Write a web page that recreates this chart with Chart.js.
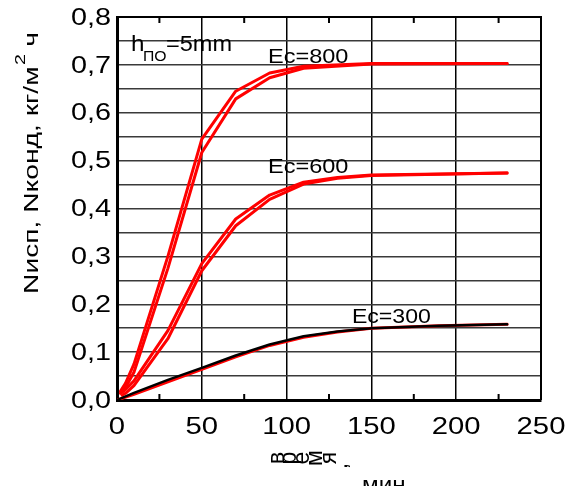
<!DOCTYPE html>
<html>
<head>
<meta charset="utf-8">
<script src="https://cdn.jsdelivr.net/npm/chart.js@4.4.1/dist/chart.umd.min.js"></script>
<style>
  html, body { margin: 0; padding: 0; background: #fff; }
  #wrap { width: 569px; height: 486px; }
</style>
</head>
<body>
<div id="wrap"><canvas id="chart"></canvas></div>
<script>
// time, min
const t800 = [2, 5, 10, 30, 50, 70, 90, 110, 150, 230];
const t600 = [3, 5, 10, 30, 50, 70, 90, 110, 130, 150, 230];
const t300 = [0, 10, 30, 50, 70, 90, 110, 130, 150, 190, 230];

// N, kg/m2h
const isp800 = [0.018, 0.035, 0.075, 0.30, 0.545, 0.645, 0.683, 0.697, 0.703, 0.703];
const kond800 = [0.014, 0.026, 0.058, 0.275, 0.517, 0.629, 0.673, 0.693, 0.702, 0.703];
const isp600 = [0.016, 0.022, 0.04, 0.145, 0.285, 0.378, 0.428, 0.455, 0.465, 0.47, 0.474];
const kond600 = [0.01, 0.014, 0.03, 0.128, 0.27, 0.364, 0.419, 0.451, 0.463, 0.469, 0.474];
const isp300 = [0, 0.015, 0.042, 0.067, 0.093, 0.116, 0.133, 0.143, 0.150, 0.155, 0.158];
const kond300 = [0, 0.012, 0.038, 0.064, 0.09, 0.114, 0.131, 0.142, 0.150, 0.155, 0.158];

const xLabels = [0, 50, 100, 150, 200, 250];
const yLabels = ['0,0', '0,1', '0,2', '0,3', '0,4', '0,5', '0,6', '0,7', '0,8'];

const pts = (xs, ys) => xs.map((x, i) => ({ x: x, y: ys[i] }));
const FONT = '"Liberation Sans", Arial, sans-serif';
const STRETCH = 1.2; // the original lettering is a bit wide

// text drawn with a horizontal stretch
function wideText(ctx, txt, x, y, align, k) {
  const m = ctx.measureText(txt).width * k;
  let x0 = x;
  if (align === 'center') x0 = x - m / 2;
  if (align === 'right') x0 = x - m;
  ctx.save();
  ctx.translate(x0, y);
  ctx.scale(k, 1);
  ctx.textAlign = 'left';
  ctx.fillText(txt, 0, 0);
  ctx.restore();
}

const decor = {
  id: 'decor',
  beforeDatasetsDraw(chart) {
    const { ctx, chartArea: a, scales: { x } } = chart;
    ctx.save();
    ctx.strokeStyle = '#000';
    ctx.lineWidth = 2;
    ctx.beginPath();
    ctx.moveTo(a.left, a.top); ctx.lineTo(a.right, a.top); ctx.lineTo(a.right, a.bottom);
    ctx.stroke();
    // minor ticks on x
    for (let v = 25; v < 250; v += 50) {
      const px = x.getPixelForValue(v);
      ctx.beginPath();
      ctx.moveTo(px, a.bottom); ctx.lineTo(px, a.bottom - 6);
      ctx.moveTo(px, a.top); ctx.lineTo(px, a.top + 6);
      ctx.stroke();
    }
    ctx.restore();
  },
  afterDatasetsDraw(chart) {
    const { ctx, scales: { x, y } } = chart;
    ctx.save();
    ctx.fillStyle = '#000';
    ctx.textBaseline = 'alphabetic';
    ctx.font = '21px ' + FONT;
    wideText(ctx, 'Ec=800', x.getPixelForValue(89), y.getPixelForValue(0.704), 'left', 1.12);
    wideText(ctx, 'Ec=600', x.getPixelForValue(89), y.getPixelForValue(0.474), 'left', 1.12);
    wideText(ctx, 'Ec=300', x.getPixelForValue(138.5), y.getPixelForValue(0.161), 'left', 1.1);
    // h_ПО=5mm
    ctx.font = '22px ' + FONT;
    wideText(ctx, 'h', 131, 51, 'left', 1.1);
    ctx.font = '15px ' + FONT;
    wideText(ctx, 'ПО', 143, 61, 'left', 1.05);
    ctx.font = '22px ' + FONT;
    wideText(ctx, '=5mm', 166, 51, 'left', 1.07);

    // tick labels
    ctx.font = '24px ' + FONT;
    ctx.textBaseline = 'middle';
    yLabels.forEach((s, i) => {
      wideText(ctx, s, 111, y.getPixelForValue(i / 10) + 1, 'right', STRETCH);
    });
    ctx.textBaseline = 'alphabetic';
    xLabels.forEach(v => {
      wideText(ctx, String(v), x.getPixelForValue(v), 434, 'center', 1.22);
    });
    ctx.restore();
  },
  afterDraw(chart) {
    const ctx = chart.ctx;
    ctx.save();
    ctx.fillStyle = '#000';
    // y title
    ctx.translate(38, 294);
    ctx.rotate(-Math.PI / 2);
    ctx.textAlign = 'left';
    ctx.textBaseline = 'alphabetic';
    ctx.font = '20px ' + FONT;
    const main = 'Nисп, Nконд, кг/м';
    const mw = ctx.measureText(main).width;
    const total = mw + 14 + ctx.measureText('ч').width;
    const k = 262 / total;
    ctx.scale(k, 1);
    ctx.fillText(main, 0, 0);
    ctx.font = '14px ' + FONT;
    ctx.fillText('2', mw + 1, -13);
    ctx.font = '20px ' + FONT;
    ctx.fillText('ч', mw + 14, 0);
    ctx.restore();

    // x title: rotated letters
    ctx.save();
    ctx.fillStyle = '#000';
    ctx.font = '23px ' + FONT;
    ctx.textAlign = 'center';
    ctx.textBaseline = 'middle';
    const chars = ['в', 'р', 'е', 'м', 'я', ','];
    const cx = [278, 290, 303, 316, 330, 341];
    const cy = [458, 458, 458, 458, 458, 466];
    chars.forEach((c, i) => {
      ctx.save();
      ctx.translate(cx[i], cy[i]);
      ctx.rotate(-Math.PI / 2);
      ctx.fillText(c, 0, 0);
      ctx.restore();
    });
    ctx.textBaseline = 'alphabetic';
    ctx.font = '22px ' + FONT;
    wideText(ctx, 'мин', 362, 492, 'left', 1.1);
    ctx.restore();
  }
};

const ctx = document.getElementById('chart').getContext('2d');
new Chart(ctx, {
  type: 'scatter',
  data: {
    datasets: [
      { label: 'Nисп Ec=300', data: pts(t300, isp300), borderColor: '#000', borderWidth: 2.5 },
      { label: 'Nконд Ec=300', data: pts(t300, kond300), borderColor: '#ff0000', borderWidth: 3 },
      { label: 'Nисп Ec=600', data: pts(t600, isp600), borderColor: '#ff0000', borderWidth: 3 },
      { label: 'Nконд Ec=600', data: pts(t600, kond600), borderColor: '#ff0000', borderWidth: 3 },
      { label: 'Nисп Ec=800', data: pts(t800, isp800), borderColor: '#ff0000', borderWidth: 3 },
      { label: 'Nконд Ec=800', data: pts(t800, kond800), borderColor: '#ff0000', borderWidth: 3 }
    ].map(d => Object.assign(d, { showLine: true, pointRadius: 0, tension: 0, fill: false, borderCapStyle: 'round', borderJoinStyle: 'round' }))
  },
  options: {
    responsive: true,
    maintainAspectRatio: false,
    animation: false,
    layout: { padding: { top: 17, right: 28, left: 0, bottom: 0 } },
    plugins: { legend: { display: false }, tooltip: { enabled: false } },
    scales: {
      x: {
        type: 'linear', min: 0, max: 250,
        afterFit: s => { s.height = 86; },
        border: { display: true, color: '#000', width: 3 },
        grid: {
          drawTicks: false,
          color: c => (c.tick && c.tick.value % 50 === 0) ? '#000' : 'rgba(0,0,0,0)',
          lineWidth: 1.5
        },
        ticks: { stepSize: 25, autoSkip: false, display: false }
      },
      y: {
        type: 'linear', min: 0, max: 0.8,
        afterFit: s => { s.width = 117; },
        border: { display: true, color: '#000', width: 3 },
        grid: { drawTicks: false, color: '#3a3a3a', lineWidth: 1.5 },
        ticks: { stepSize: 0.05, autoSkip: false, display: false }
      }
    }
  },
  plugins: [decor]
});
</script>
</body>
</html>
